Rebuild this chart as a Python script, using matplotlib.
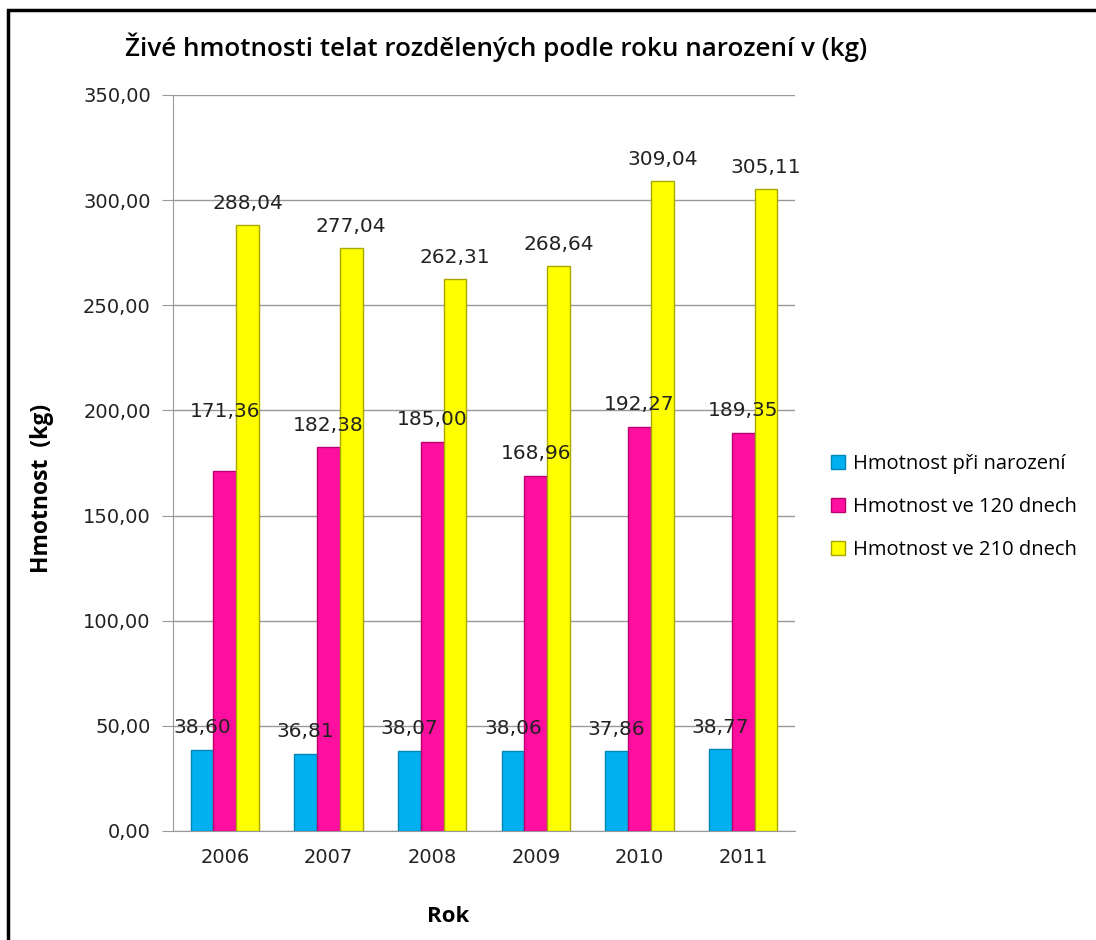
import numpy as np
import matplotlib.pyplot as plt
from matplotlib.patches import Rectangle

years = ['2006', '2007', '2008', '2009', '2010', '2011']
series_names = ['Hmotnost při narození', 'Hmotnost ve 120 dnech', 'Hmotnost ve 210 dnech']
birth = [38.60, 36.81, 38.07, 38.06, 37.86, 38.77]
day120 = [171.36, 182.38, 185.00, 168.96, 192.27, 189.35]
day210 = [288.04, 277.04, 262.31, 268.64, 309.04, 305.11]

colors = ['#00B0F0', '#FF0FA0', '#FFFF00']
edges = ['#0085B8', '#B8006E', '#A8A800']

fig = plt.figure(figsize=(10.96, 9.4), dpi=100)
ax = fig.add_axes([173 / 1096, (940 - 831) / 940, (795 - 173) / 1096, (831 - 95) / 940])

x = np.arange(len(years))
w = 0.22
data = [birth, day120, day210]
for i, vals in enumerate(data):
    pos = x + (i - 1) * w
    ax.bar(pos, vals, w, color=colors[i], edgecolor=edges[i], linewidth=1.0,
           label=series_names[i], zorder=3)
    for j, (p, v) in enumerate(zip(pos, vals)):
        dy = 9
        if i == 1 and j == 0:
            dy = 36  # label moved up in the original
        ax.annotate(f'{v:.2f}'.replace('.', ','), (p, v), xytext=(0, dy),
                    textcoords='offset points', ha='center', va='bottom',
                    fontsize=14.5, color='#222222', zorder=4)

ax.set_xlim(-0.5, 5.5)
ax.set_ylim(0, 350)
ax.set_yticks(np.arange(0, 351, 50))
ax.set_yticklabels([f'{t:.2f}'.replace('.', ',') for t in np.arange(0, 351, 50)],
                   fontsize=14, color='#222222')
ax.set_xticks(x)
ax.set_xticklabels(years, fontsize=14, color='#222222')
ax.tick_params(axis='x', length=0, pad=12)
ax.tick_params(axis='y', length=8, color='#999999', pad=8)
ax.grid(axis='y', color='#999999', linewidth=1, zorder=0)
for s in ['top', 'right']:
    ax.spines[s].set_visible(False)
ax.spines['left'].set_color('#999999')
ax.spines['bottom'].set_color('#999999')

ax.set_ylabel('Hmotnost  (kg)', fontsize=16.5, fontweight='bold', family='Open Sans')
ax.yaxis.set_label_coords((54 - 173) / 622, (831 - 488) / 736)
ax.set_xlabel('Rok', fontsize=16, fontweight='bold', family='Open Sans')
ax.xaxis.set_label_coords((448 - 173) / 622, (831 - 906) / 736)

fig.text(125 / 1096, 1 - 47 / 940, 'Živé hmotnosti telat rozdělených podle roku narození v (kg)',
         fontsize=18.7, fontweight='semibold', family='Open Sans', ha='left', va='center')

leg = fig.legend(loc='center left', bbox_to_anchor=(813 / 1096, 1 - 507 / 940), frameon=False,
                 prop={'family': 'Open Sans', 'size': 14.5}, handlelength=0.7, handleheight=0.7,
                 handletextpad=0.4, labelspacing=1.15)

fig.patches.append(Rectangle((8, -20), 1200, 940 - 10 + 20, transform=None, fill=False,
                             edgecolor='black', linewidth=2.5))

plt.savefig('out.png', dpi=100)
